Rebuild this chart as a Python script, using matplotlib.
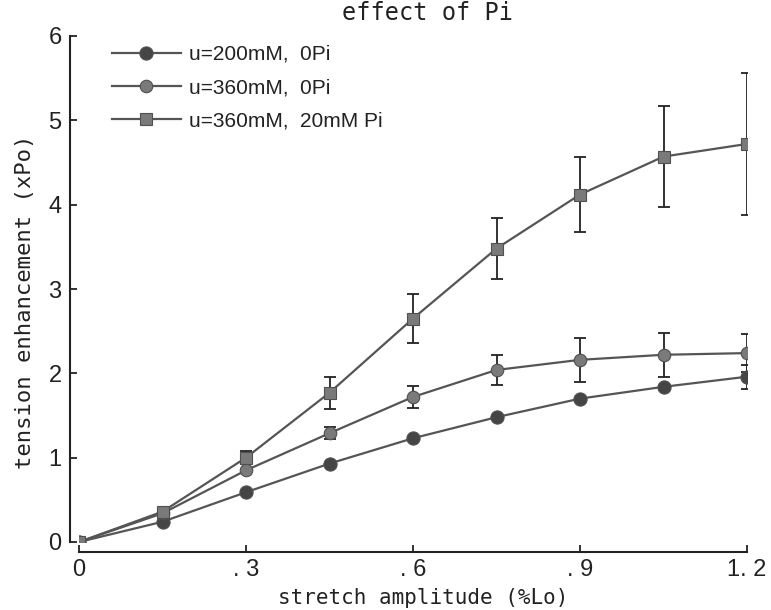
import numpy as np
import matplotlib
matplotlib.use('Agg')
import matplotlib.pyplot as plt

# stretch amplitude (%Lo)
amplitude = [0.0, 0.15, 0.3, 0.45, 0.6, 0.75, 0.9, 1.05, 1.2]

# tension enhancement (xPo) and its error
u200_0pi = [0.0, 0.24, 0.59, 0.93, 1.23, 1.48, 1.70, 1.84, 1.96]
u200_0pi_err = [0, 0, 0, 0, 0, 0, 0, 0, 0.14]

u360_0pi = [0.0, 0.34, 0.85, 1.29, 1.72, 2.04, 2.16, 2.22, 2.24]
u360_0pi_err = [0, 0, 0, 0.07, 0.13, 0.18, 0.26, 0.26, 0.23]

u360_20pi = [0.0, 0.36, 1.0, 1.77, 2.65, 3.48, 4.12, 4.57, 4.72]
u360_20pi_err = [0, 0, 0.08, 0.19, 0.29, 0.36, 0.45, 0.60, 0.84]

labels = ["u=200mM,  0Pi", "u=360mM,  0Pi", "u=360mM,  20mM Pi"]
xticks = [0, 0.3, 0.6, 0.9, 1.2]
xtick_labels = ["0", ". 3", ". 6", ". 9", "1. 2"]
yticks = [0, 1, 2, 3, 4, 5, 6]

mono = "DejaVu Sans Mono"
sans = "Liberation Sans"

fig = plt.figure(figsize=(7.71, 6.10), dpi=100)
ax = fig.add_axes([79 / 771, 68 / 610, 668 / 771, 506 / 610])

series = [
    (u200_0pi, u200_0pi_err, "o", "#454545", 9.5),
    (u360_0pi, u360_0pi_err, "o", "#7a7a7a", 9),
    (u360_20pi, u360_20pi_err, "s", "#7a7a7a", 9),
]

x = np.array(amplitude)
for (vals, err, marker, fc, ms), label in zip(series, labels):
    vals = np.array(vals)
    err = np.array(err)
    ax.plot(x, vals, color="#555555", lw=1.6, marker=marker, ms=ms,
            mfc=fc, mec="#505050", mew=0.8, label=label, zorder=3)
    m = err > 0
    ax.errorbar(x[m], vals[m], yerr=err[m], fmt="none", ecolor="#222222",
                elinewidth=1.3, capsize=4.5, capthick=1.3, zorder=2)

ax.set_xlim(0, 1.2)
ax.set_ylim(0, 6)
ax.set_xticks(xticks)
ax.set_xticklabels(xtick_labels)
ax.set_yticks(yticks)

for side in ["top", "right"]:
    ax.spines[side].set_visible(False)
ax.spines["left"].set_position(("outward", 6.5))
ax.spines["bottom"].set_position(("outward", 7))
for side in ["left", "bottom"]:
    ax.spines[side].set_linewidth(1.5)
    ax.spines[side].set_color("#222222")

ax.tick_params(direction="in", length=5, width=1.3, colors="#222222",
               labelsize=17, pad=6)
ax.tick_params(axis="x", pad=5)
for t in ax.get_xticklabels() + ax.get_yticklabels():
    t.set_fontfamily(sans)
    t.set_color("#222222")

ax.set_xlabel("stretch amplitude (%Lo)", fontfamily=mono, fontsize=15,
              color="#222222")
ax.xaxis.set_label_coords(423 / 771, 22 / 610, transform=fig.transFigure)
ax.set_ylabel("tension enhancement (xPo)", fontfamily=mono, fontsize=16,
              color="#222222")
ax.yaxis.set_label_coords(35 / 771, 1 - 302 / 610, transform=fig.transFigure)
fig.text(428 / 771, 1 - 13 / 610, "effect of Pi", fontfamily=mono,
         fontsize=17, color="#222222", ha="center", va="center")

leg = ax.legend(loc="upper left", bbox_to_anchor=(112 / 771, 1 - 45 / 610),
                bbox_transform=fig.transFigure, frameon=False,
                borderaxespad=0, borderpad=0, handlelength=3.3,
                handletextpad=0.4, labelspacing=0.68,
                prop={"family": sans, "size": 15})
for t in leg.get_texts():
    t.set_color("#222222")

fig.savefig("out.png", dpi=100)
